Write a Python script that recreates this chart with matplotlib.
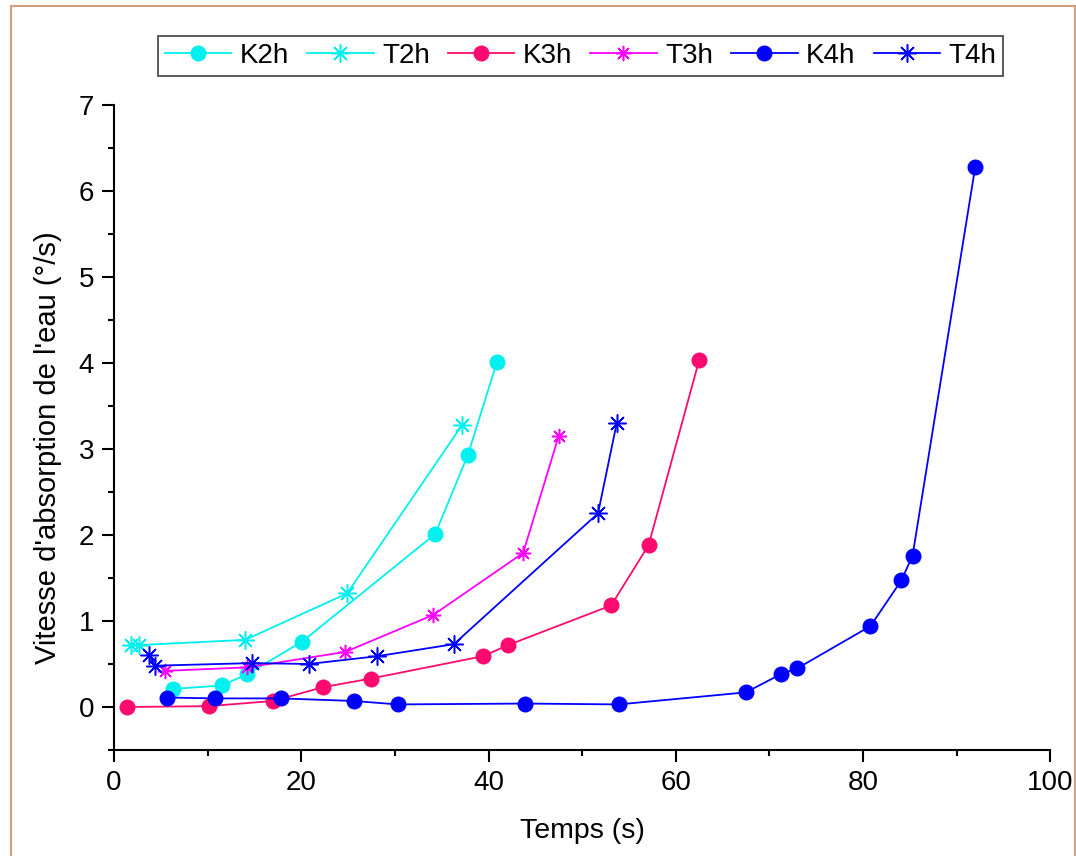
import numpy as np
import matplotlib
matplotlib.use('Agg')
import matplotlib.pyplot as plt
from matplotlib.patches import Rectangle

plt.rcParams['font.family'] = ['Liberation Sans', 'DejaVu Sans']

# temps (s) et vitesse d'absorption (°/s)
k2h_t = [6.3, 11.5, 14.2, 20.1, 34.3, 37.8, 40.9]
k2h_v = [0.21, 0.25, 0.38, 0.76, 2.01, 2.93, 4.01]

t2h_t = [1.8, 2.7, 14.0, 24.9, 37.2]
t2h_v = [0.72, 0.72, 0.78, 1.32, 3.28]

k3h_t = [1.4, 10.1, 17.0, 22.3, 27.4, 39.4, 42.1, 53.1, 57.1, 62.5]
k3h_v = [0.0, 0.01, 0.07, 0.23, 0.33, 0.59, 0.72, 1.18, 1.88, 4.03]

t3h_t = [5.4, 14.2, 24.7, 34.1, 43.7, 47.5]
t3h_v = [0.42, 0.46, 0.64, 1.07, 1.79, 3.15]

k4h_t = [5.7, 10.8, 17.8, 25.6, 30.3, 43.9, 53.9, 67.5, 71.2, 73.0, 80.8, 84.1, 85.3, 92.0]
k4h_v = [0.11, 0.10, 0.10, 0.07, 0.03, 0.04, 0.03, 0.17, 0.38, 0.45, 0.94, 1.47, 1.76, 6.28]

t4h_t = [3.7, 4.4, 14.7, 20.8, 28.1, 36.3, 51.7, 53.7]
t4h_v = [0.61, 0.48, 0.51, 0.50, 0.59, 0.73, 2.25, 3.30]

fig = plt.figure(figsize=(10.76, 8.56), dpi=100)
ax = fig.add_axes([0.106, 0.1238, 0.870, 0.754])

star = (8, 2, 0)
ax.plot(k2h_t, k2h_v, '-o', color='#00F0F0', lw=1.3, ms=10.5, label='K2h')
ax.plot(t2h_t, t2h_v, '-', marker=star, color='#00F0F0', lw=1.3, ms=13, mew=1.1, label='T2h')
ax.plot(k3h_t, k3h_v, '-o', color='#FF0A6E', lw=1.3, ms=10.5, label='K3h')
ax.plot(t3h_t, t3h_v, '-', marker=star, color='#FF00FF', lw=1.3, ms=11, mew=1.1, label='T3h')
ax.plot(k4h_t, k4h_v, '-o', color='#0000FF', lw=1.3, ms=10.5, label='K4h')
ax.plot(t4h_t, t4h_v, '-', marker=star, color='#0000FF', lw=1.3, ms=13, mew=1.1, label='T4h')

ax.set_xlim(0, 100)
ax.set_ylim(-0.5, 7)
ax.set_xticks([0, 20, 40, 60, 80, 100])
ax.set_xticks(np.arange(10, 100, 20), minor=True)
ax.set_yticks(range(0, 8))
ax.set_yticks(np.arange(-0.5, 7, 1), minor=True)
ax.spines['top'].set_visible(False)
ax.spines['right'].set_visible(False)
for s in ('left', 'bottom'):
    ax.spines[s].set_linewidth(1.5)
ax.tick_params(which='major', length=8.5, width=1.5, labelsize=20, pad=6)
ax.tick_params(which='minor', length=4.5, width=1.5)

ax.set_xlabel('Temps (s)', fontsize=20.5, labelpad=16)
ax.set_ylabel("Vitesse d'absorption de l'eau (°/s)", fontsize=21)
ax.yaxis.set_label_coords(-0.0557, 0.469)

leg = fig.legend(loc='center', bbox_to_anchor=(0.5395, 0.9346), ncol=6, fontsize=20,
                 fancybox=False, framealpha=1, edgecolor='#404040',
                 handlelength=2.4, handletextpad=0.3, columnspacing=0.65,
                 borderpad=0.25, borderaxespad=0)
leg.get_frame().set_linewidth(1.2)

# cadre beige autour de la figure
fig.patches.append(Rectangle((11 / 1076, -0.02), 1064 / 1076, (850 / 856) + 0.02,
                             transform=fig.transFigure, fill=False,
                             edgecolor='#D2A07E', lw=1.5))

fig.savefig('out.png', dpi=100)
